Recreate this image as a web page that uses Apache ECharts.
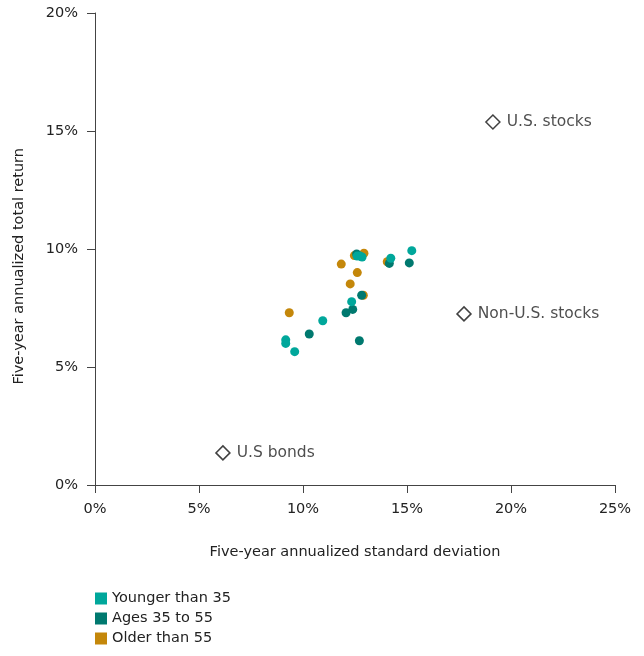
<!DOCTYPE html>
<html>
<head>
<meta charset="utf-8">
<script src="https://cdn.jsdelivr.net/npm/echarts@6/dist/echarts.min.js"></script>
<style>
  html, body { margin: 0; padding: 0; background: #fff; }
  #chart { width: 644px; height: 656px; }
</style>
</head>
<body>
<div id="chart"></div>
<script>
// 数据: [标准差%, 收益%]
const youngerPts = [
  [12.6, 9.7], [12.84, 9.66], [12.74, 9.7], [12.34, 7.77], [10.95, 6.96],
  [9.17, 6.15], [9.17, 6.0], [9.6, 5.65], [14.22, 9.61], [15.23, 9.93]
]
const middlePts = [
  [12.58, 9.79], [12.82, 8.04], [12.39, 7.44], [12.07, 7.3], [10.3, 6.4],
  [12.71, 6.11], [14.15, 9.39], [15.11, 9.41]
]
const olderPts = [
  [12.47, 9.72], [12.93, 9.82], [11.84, 9.36], [12.61, 9.0], [12.27, 8.52],
  [9.34, 7.3], [14.05, 9.46], [12.9, 8.04]
]
const benchNames = ['U.S. stocks', 'Non-U.S. stocks', 'U.S bonds']
const benchPts = [[19.13, 15.38], [17.74, 7.25], [6.15, 1.36]]

const xTicks = [0, 5, 10, 15, 20, 25]
const yTicks = [0, 5, 10, 15, 20]

const FONT = '"DejaVu Sans", "Open Sans", sans-serif'
const TXT = '#222'
const AXIS = '#444'
const FS = 14.5

const chart = echarts.init(document.getElementById('chart'))

function scatter(name, data, color) {
  return {
    name,
    type: 'scatter',
    data,
    symbol: 'circle',
    symbolSize: 9,
    itemStyle: { color, opacity: 1 },
    emphasis: { disabled: true }
  }
}

const option = {
  animation: false,
  textStyle: { fontFamily: FONT },
  grid: { left: 95, right: 29, top: 13, bottom: 171 },
  xAxis: {
    type: 'value',
    min: xTicks[0],
    max: xTicks[xTicks.length - 1],
    interval: 5,
    name: 'Five-year annualized standard deviation',
    nameLocation: 'middle',
    nameGap: 60,
    nameTextStyle: { color: TXT, fontSize: FS, fontFamily: FONT },
    axisLine: { show: true, lineStyle: { color: AXIS, width: 1 } },
    axisTick: { show: true, length: 8, lineStyle: { color: AXIS } },
    axisLabel: { color: TXT, fontSize: FS, fontFamily: FONT, margin: 17, formatter: '{value}%' },
    splitLine: { show: false }
  },
  yAxis: {
    type: 'value',
    min: yTicks[0],
    max: yTicks[yTicks.length - 1],
    interval: 5,
    axisLine: { show: true, lineStyle: { color: AXIS, width: 1 } },
    axisTick: { show: true, length: 8, lineStyle: { color: AXIS } },
    axisLabel: { color: TXT, fontSize: FS, fontFamily: FONT, margin: 17, formatter: '{value}%' },
    splitLine: { show: false }
  },
  legend: {
    orient: 'vertical',
    left: 95,
    top: 591,
    padding: 0,
    icon: 'rect',
    itemWidth: 12,
    itemHeight: 12,
    itemGap: 5,
    data: ['Younger than 35', 'Ages 35 to 55', 'Older than 55'],
    textStyle: { color: TXT, fontSize: FS, fontFamily: FONT }
  },
  graphic: [{
    type: 'text',
    left: 12,
    top: 148,
    rotation: Math.PI / 2,
    style: {
      text: 'Five-year annualized total return',
      fill: TXT,
      font: FS + 'px ' + FONT
    }
  }],
  series: [
    scatter('Older than 55', olderPts, '#C4870A'),
    scatter('Ages 35 to 55', middlePts, '#00796F'),
    scatter('Younger than 35', youngerPts, '#00A79B'),
    {
      name: 'bench',
      type: 'scatter',
      data: benchPts.map((p, i) => ({ value: p, name: benchNames[i] })),
      symbol: 'diamond',
      symbolSize: 14,
      itemStyle: { color: '#fff', borderColor: '#111', borderWidth: 1.5 },
      label: {
        show: true,
        position: 'right',
        distance: 6,
        formatter: '{b}',
        color: TXT,
        fontSize: 15.5,
        fontFamily: FONT
      },
      emphasis: { disabled: true }
    }
  ]
}

chart.setOption(option)
</script>
</body>
</html>
